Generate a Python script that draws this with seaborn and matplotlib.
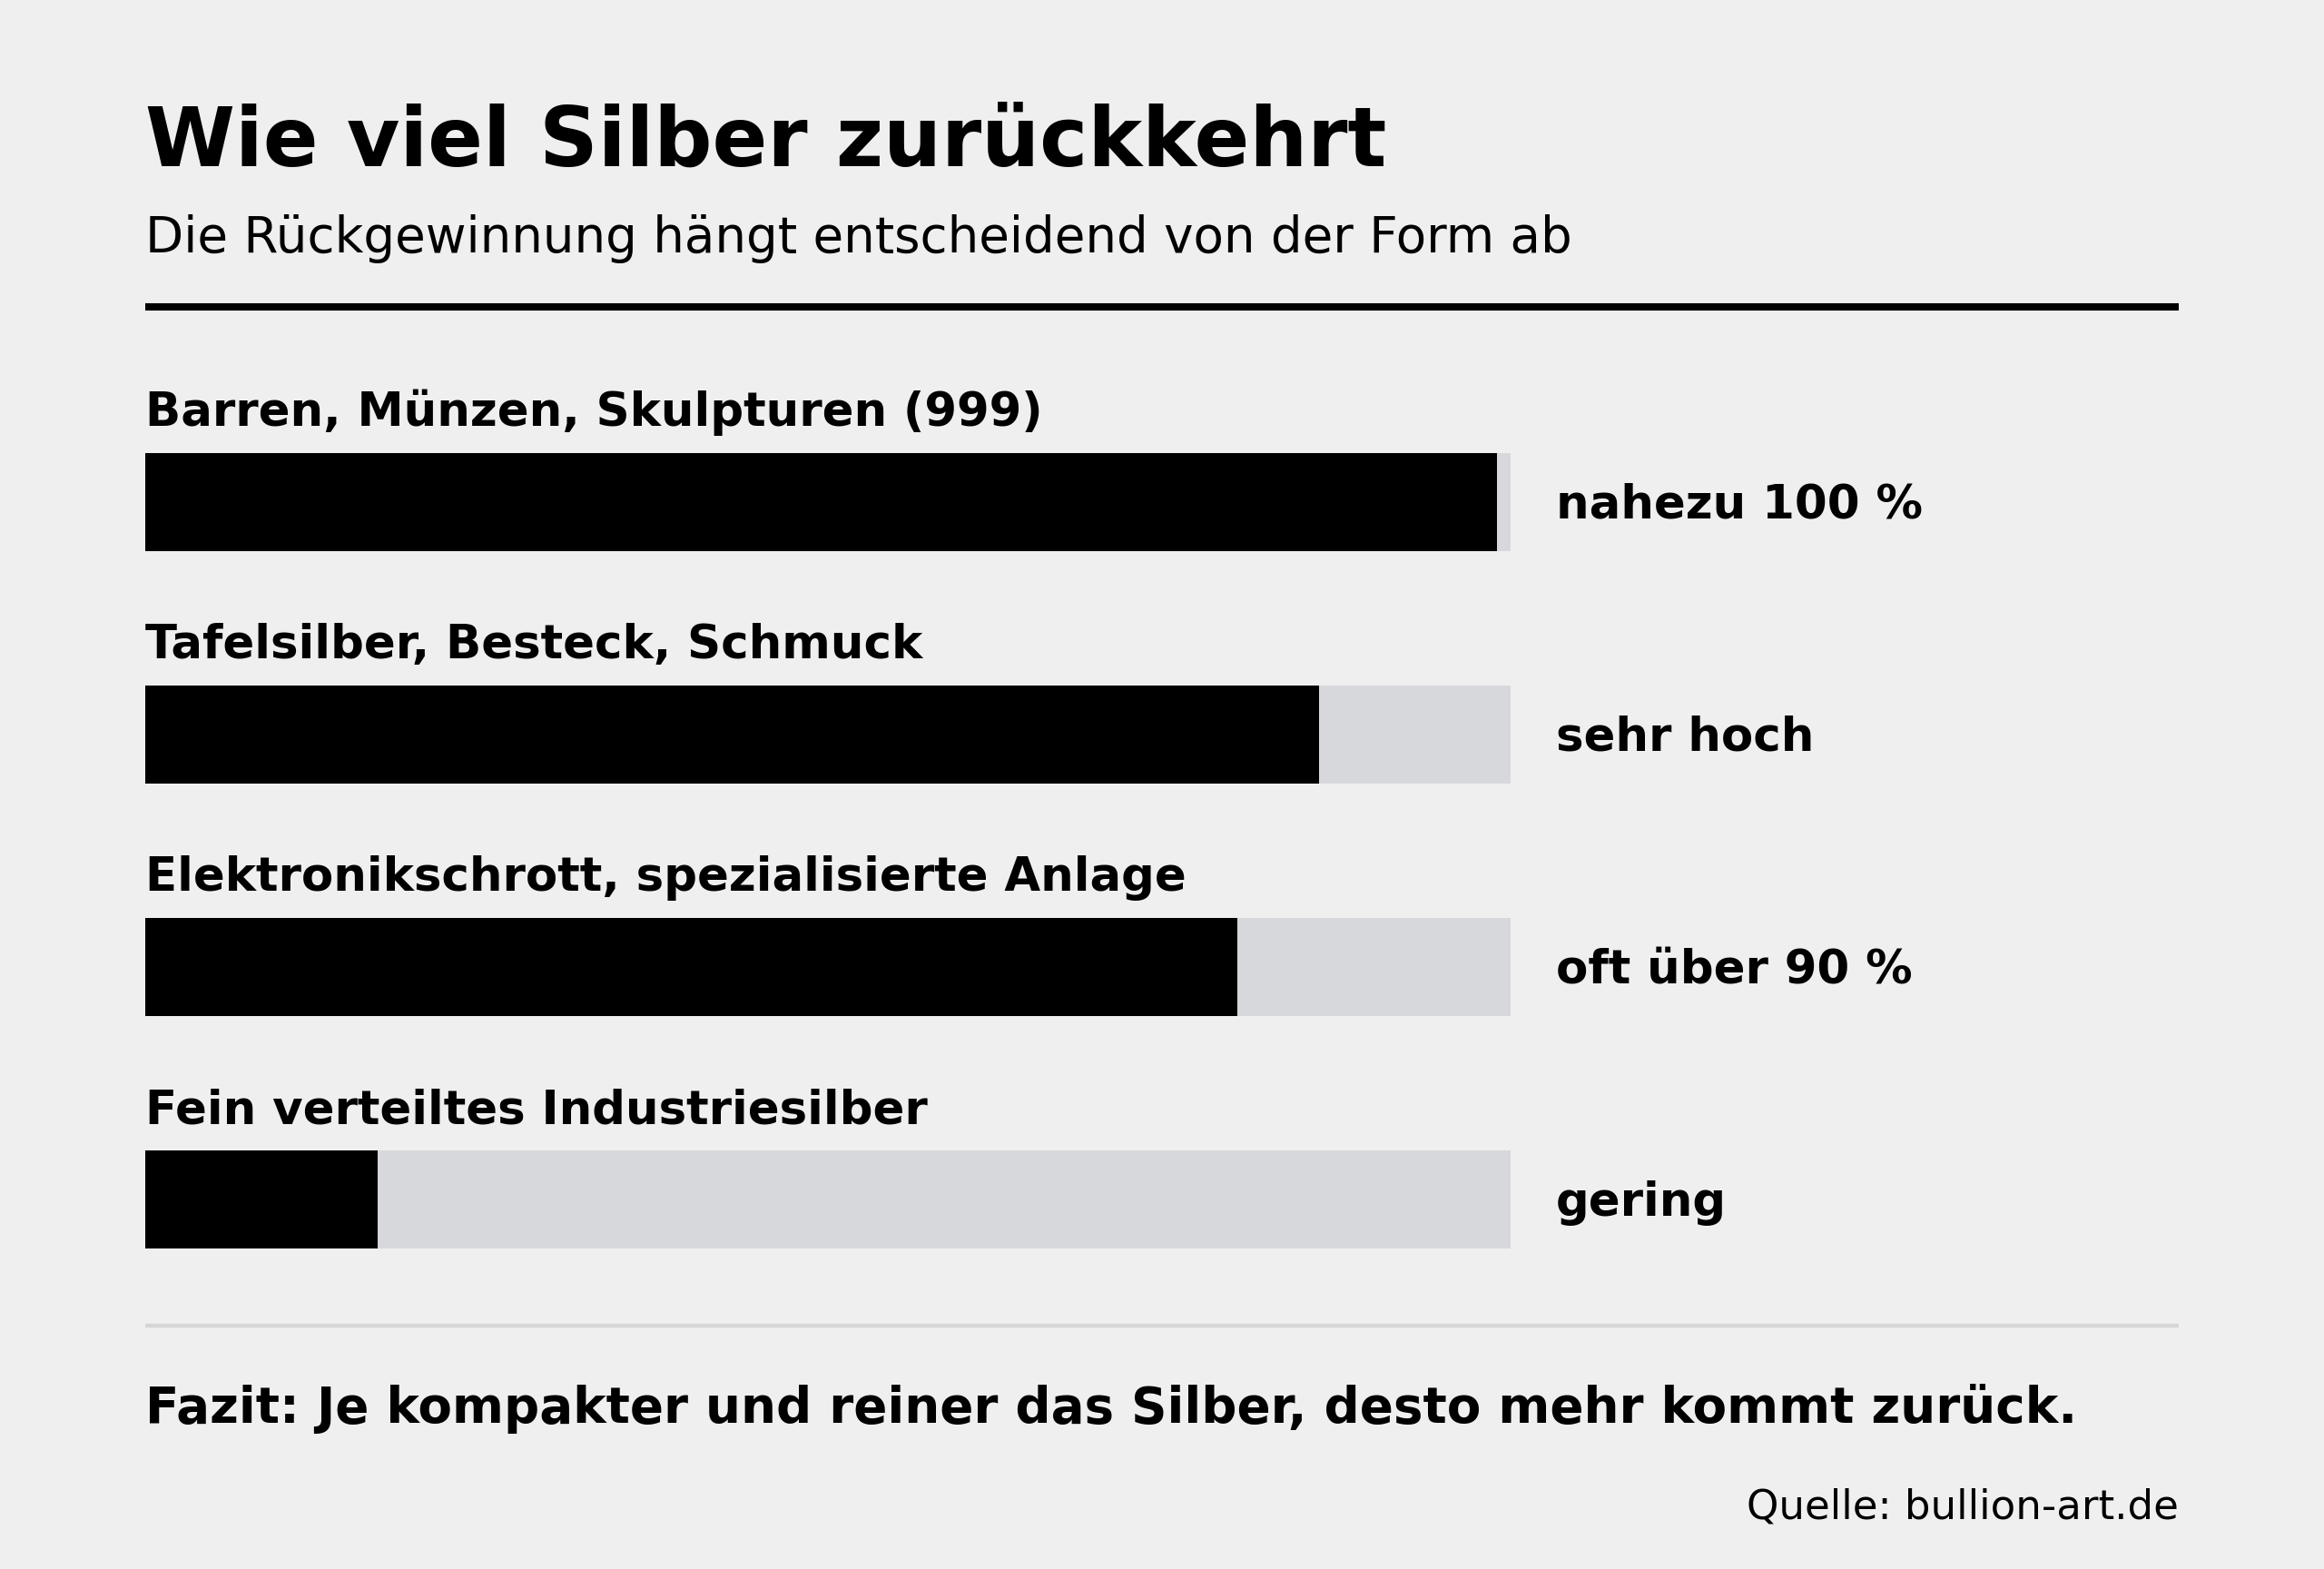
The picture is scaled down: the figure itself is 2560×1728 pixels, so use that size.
import matplotlib
matplotlib.use("Agg")
import matplotlib.pyplot as plt
import seaborn as sns
import pandas as pd

categories = ["Barren, Münzen, Skulpturen (999)",
              "Tafelsilber, Besteck, Schmuck",
              "Elektronikschrott, spezialisierte Anlage",
              "Fein verteiltes Industriesilber"]
values = [99, 86, 80, 17]
value_labels = ["nahezu 100 %", "sehr hoch", "oft über 90 %", "gering"]
track = [100, 100, 100, 100]

title = "Wie viel Silber zurückkehrt"
subtitle = "Die Rückgewinnung hängt entscheidend von der Form ab"
conclusion = "Fazit: Je kompakter und reiner das Silber, desto mehr kommt zurück."
source = "Quelle: bullion-art.de"

BG = "#efefef"
TRACK = "#d7d8db"

sns.set_theme(style="white")
plt.rcParams['font.family'] = ['DejaVu Sans']

W, H, DPI = 2560, 1728, 200
fig = plt.figure(figsize=(W / DPI, H / DPI), dpi=DPI, facecolor=BG)

def fx(px):
    return px / W

def fy(py):
    return 1 - py / H

df = pd.DataFrame({"cat": categories, "val": values, "track": track})

ax = fig.add_axes([fx(160), fy(1449), fx(1664) - fx(160), (1449 - 425) / H])
ax.set_facecolor(BG)
sns.barplot(data=df, x="track", y="cat", color=TRACK, width=0.42, ax=ax,
            saturation=1, edgecolor="none", linewidth=0)
sns.barplot(data=df, x="val", y="cat", color="black", width=0.42, ax=ax,
            saturation=1, edgecolor="none", linewidth=0)
ax.set_xlim(0, 100)
ax.set_ylim(3.5, -0.5)
ax.axis("off")

for i, (c, vl) in enumerate(zip(categories, value_labels)):
    ax.text(0, i - 0.328, c, ha="left", va="baseline", fontsize=18.5,
            fontweight="bold", color="black", clip_on=False)
    ax.text(103.3, i + 0.07, vl, ha="left", va="baseline", fontsize=18.5,
            fontweight="bold", color="black", clip_on=False)

fig.text(fx(160), fy(183), title, fontsize=32.3, fontweight="bold",
         ha="left", va="baseline", color="black")
fig.text(fx(160), fy(278), subtitle, fontsize=19.7,
         ha="left", va="baseline", color="black")

fig.add_artist(plt.Line2D([fx(160), fx(2400)], [fy(338), fy(338)],
                          color="black", linewidth=2.9, solid_capstyle="butt"))
fig.add_artist(plt.Line2D([fx(160), fx(2400)], [fy(1460), fy(1460)],
                          color="#d6d6d6", linewidth=1.6, solid_capstyle="butt"))

fig.text(fx(160), fy(1567), conclusion, fontsize=19.7, fontweight="bold",
         ha="left", va="baseline", color="black")
fig.text(fx(2400), fy(1672), source, fontsize=16.2,
         ha="right", va="baseline", color="black")

fig.savefig("out.png", dpi=DPI, facecolor=BG)
